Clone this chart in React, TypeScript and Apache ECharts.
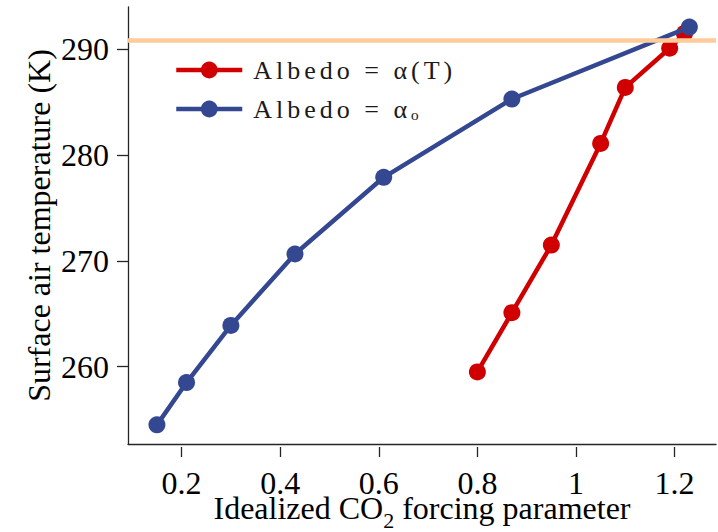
import React, { useEffect, useRef } from 'react';
import * as echarts from 'echarts';

const forcingAlbedoT = [0.8, 0.87, 0.95, 1.05, 1.1, 1.19, 1.22];
const tempAlbedoT = [259.5, 265.1, 271.5, 281.1, 286.4, 290.1, 291.5];
const forcingAlbedoO = [0.15, 0.21, 0.3, 0.43, 0.61, 0.87, 1.23];
const tempAlbedoO = [254.5, 258.5, 263.9, 270.65, 277.9, 285.3, 292.1];
const xTickValues = [0.2, 0.4, 0.6, 0.8, 1, 1.2];
const yTickValues = [260, 270, 280, 290];
const referenceTemp = 290.9;
const seriesNames = ['Albedo = α(T)', 'Albedo = αₒ'];
const xAxisTitle = 'Idealized CO{sub|2} forcing parameter';
const yAxisTitle = 'Surface air temperature (K)';

const FONT = 'Liberation Serif';
const X_MIN = 0.0913;
const X_MAX = 1.284;
const Y_MIN = 252.69;
const Y_MAX = 294.0;

export default function App() {
  const ref = useRef<HTMLDivElement>(null);

  useEffect(() => {
    if (!ref.current) return;
    const chart = echarts.init(ref.current, undefined, { renderer: 'svg' });
    const axisLine = { show: true, lineStyle: { color: '#262626', width: 1.3 } };
    const fmt = (v: number) => String(Number(v.toFixed(1)));

    chart.setOption({
      animation: false,
      backgroundColor: '#ffffff',
      grid: { left: 128, top: 7, right: 2, bottom: 88, containLabel: false, outerBoundsMode: 'none' },
      legend: {
        data: seriesNames,
        orient: 'vertical',
        left: 169,
        top: 52,
        itemWidth: 66,
        itemHeight: 21,
        itemGap: 13,
        lineStyle: { width: 4.5 },
        textStyle: { fontFamily: FONT, fontSize: 26, color: '#1a1a1a', padding: [0, 0, 0, 6] },
      },
      xAxis: [
        {
          type: 'value', min: X_MIN, max: X_MAX, position: 'bottom',
          axisLine, axisTick: { show: false }, axisLabel: { show: false }, splitLine: { show: false },
        },
        {
          type: 'value', min: X_MIN, max: X_MAX, position: 'bottom', offset: 3,
          axisLine: { show: false },
          axisTick: { show: true, length: 10, customValues: xTickValues, lineStyle: { color: '#262626', width: 1.3 } },
          axisLabel: { show: true, customValues: xTickValues, formatter: fmt, margin: 20, fontFamily: FONT, fontSize: 32, color: '#000' },
          splitLine: { show: false },
          name: xAxisTitle,
          nameLocation: 'middle',
          nameGap: 44,
          nameMoveOverlap: false,
          nameTextStyle: {
            fontFamily: FONT, fontSize: 32, color: '#000', lineHeight: 34,
            rich: { sub: { fontFamily: FONT, fontSize: 22, lineHeight: 10, padding: [24, 0, 0, 0], color: '#000' } },
          },
        },
      ],
      yAxis: {
        type: 'value', min: Y_MIN, max: Y_MAX,
        axisLine,
        axisTick: { show: true, length: 11, customValues: yTickValues, lineStyle: { color: '#262626', width: 1.3 } },
        axisLabel: { show: true, customValues: yTickValues, margin: 19, fontFamily: FONT, fontSize: 32, color: '#000' },
        splitLine: { show: false },
        name: yAxisTitle,
        nameLocation: 'middle',
        nameGap: 73,
        nameMoveOverlap: false,
        nameTextStyle: { fontFamily: FONT, fontSize: 32, color: '#000' },
      },
      series: [
        {
          type: 'line', name: 'reference', data: [], z: 1, silent: true,
          markLine: {
            silent: true, symbol: 'none', label: { show: false },
            lineStyle: { color: '#FECB99', width: 4.5, type: 'solid' },
            emphasis: { disabled: true },
            data: [{ yAxis: referenceTemp }],
          },
        },
        {
          type: 'line', name: seriesNames[0], z: 3,
          data: forcingAlbedoT.map((x, i) => [x, tempAlbedoT[i]]),
          symbol: 'circle', symbolSize: 17,
          itemStyle: { color: '#D00000' },
          lineStyle: { color: '#D00000', width: 4.5 },
        },
        {
          type: 'line', name: seriesNames[1], z: 4,
          data: forcingAlbedoO.map((x, i) => [x, tempAlbedoO[i]]),
          symbol: 'circle', symbolSize: 17,
          itemStyle: { color: '#344791' },
          lineStyle: { color: '#344791', width: 4.5 },
        },
      ],
    });

    const applySpacing = () => {
      const root = ref.current;
      if (!root) return;
      root.querySelectorAll('text').forEach((t) => {
        if (t.textContent && t.textContent.startsWith('Albedo')) {
          t.setAttribute('letter-spacing', '4');
        }
      });
    };
    applySpacing();
    chart.on('finished', applySpacing);

    return () => chart.dispose();
  }, []);

  return <div ref={ref} style={{ position: 'fixed', left: 0, top: 0, width: 718, height: 532 }} />;
}
